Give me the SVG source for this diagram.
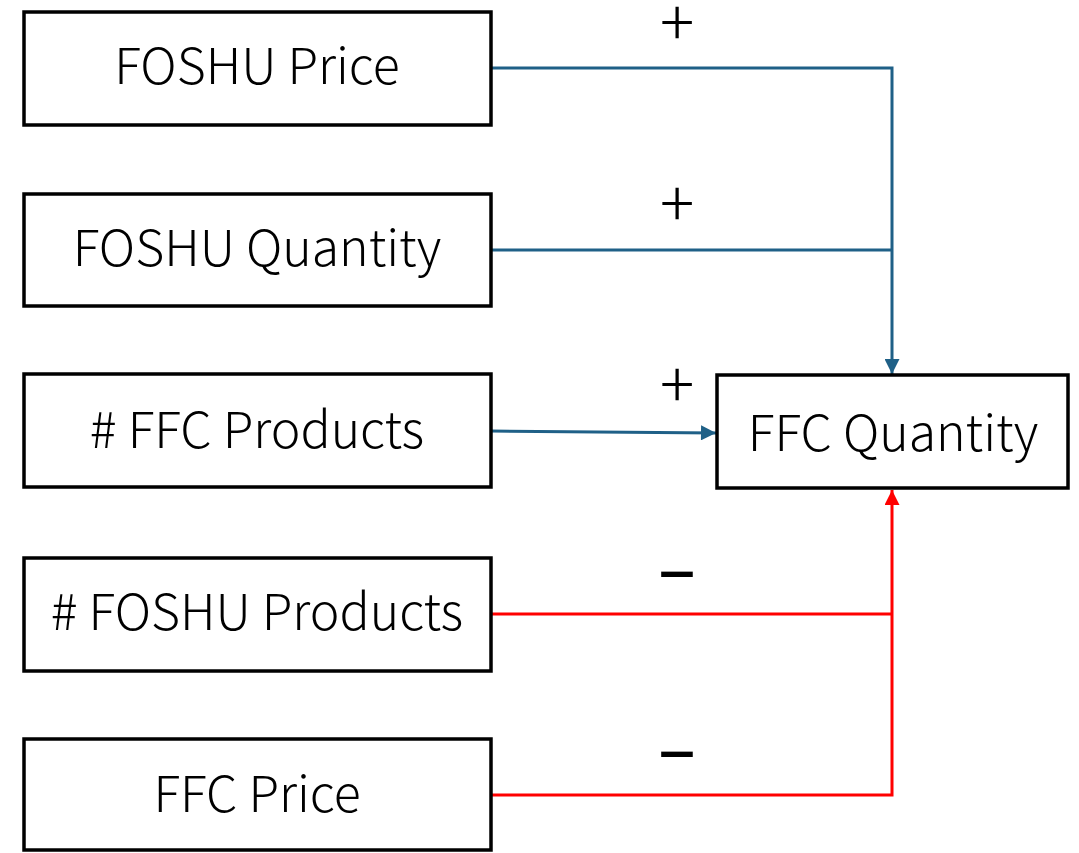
<svg xmlns="http://www.w3.org/2000/svg" width="1079" height="853" viewBox="0 0 1079 853">
<style>
.box{fill:#fff;stroke:#000;stroke-width:3.5}
.lbl{font-family:"Noto Sans CJK JP","Noto Sans",sans-serif;font-weight:300;font-size:50px;fill:#000;text-anchor:middle}
.sign{font-family:"Noto Sans CJK JP","Noto Sans",sans-serif;font-weight:300;font-size:64px;fill:#000;text-anchor:middle}
.minus{font-weight:500}
.blue{fill:none;stroke:#1F6087;stroke-width:3}
.red{fill:none;stroke:#FF0000;stroke-width:3}
</style>
<defs>
<marker id="ab" viewBox="0 0 10 10" refX="10" refY="5" markerWidth="5.5" markerHeight="5" orient="auto" markerUnits="strokeWidth"><path d="M0,0 L10,5 L0,10 Z" fill="#1F6087"/></marker>
<marker id="ar" viewBox="0 0 10 10" refX="10" refY="5" markerWidth="5.5" markerHeight="5" orient="auto" markerUnits="strokeWidth"><path d="M0,0 L10,5 L0,10 Z" fill="#FF0000"/></marker>
</defs>
<rect width="1079" height="853" fill="#fff"/>
<g id="connectors">
<polyline class="blue" points="491,68 892,68 892,374" marker-end="url(#ab)"/>
<line class="blue" x1="491" y1="250" x2="892" y2="250"/>
<line class="blue" x1="491" y1="431" x2="716" y2="433" marker-end="url(#ab)"/>
<polyline class="red" points="491,795 892,795 892,490" marker-end="url(#ar)"/>
<line class="red" x1="491" y1="614" x2="892" y2="614"/>
<text class="sign" x="677" y="46">+</text>
<text class="sign" x="677" y="227">+</text>
<text class="sign" x="677" y="408">+</text>
<text class="sign minus" x="677" y="598">−</text>
<text class="sign minus" x="677" y="778">−</text>
</g>
<g id="foshu-price"><rect class="box" x="24" y="12" width="467" height="113"/><text class="lbl" x="257" y="84">FOSHU Price</text></g>
<g id="foshu-quantity"><rect class="box" x="24" y="194" width="467" height="112"/><text class="lbl" x="257" y="266">FOSHU Quantity</text></g>
<g id="ffc-products"><rect class="box" x="24" y="374" width="467" height="113"/><text class="lbl" x="257" y="448">#&#160;FFC Products</text></g>
<g id="foshu-products"><rect class="box" x="24" y="558" width="467" height="113"/><text class="lbl" x="257" y="630">#&#160;FOSHU Products</text></g>
<g id="ffc-price"><rect class="box" x="24" y="739" width="467" height="111"/><text class="lbl" x="257" y="812">FFC Price</text></g>
<g id="ffc-quantity"><rect class="box" x="717" y="375" width="351" height="113"/><text class="lbl" x="893" y="451">FFC Quantity</text></g>
</svg>
